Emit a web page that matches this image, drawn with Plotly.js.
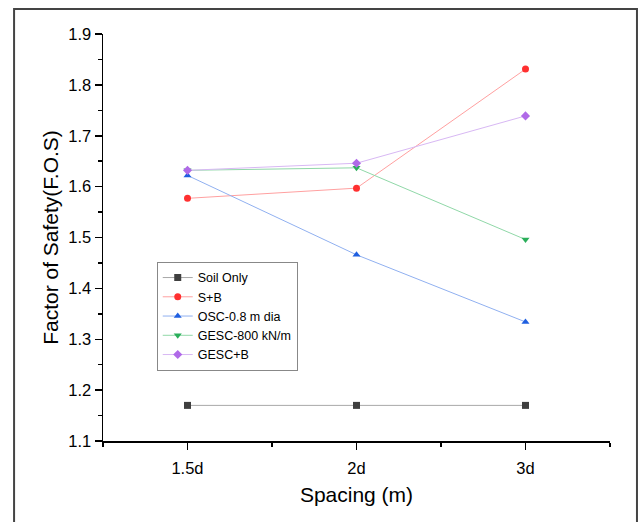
<!DOCTYPE html>
<html>
<head>
<meta charset="utf-8">
<script src="https://cdn.plot.ly/plotly-3.0.1.min.js"></script>
<style>html,body{margin:0;padding:0;background:#fff;}#chart{width:640px;height:522px;}</style>
</head>
<body>
<div id="chart"></div>
<script>
const categories = ["1.5d", "2d", "3d"];
const soilOnly = [1.170, 1.170, 1.170];
const sPlusB = [1.577, 1.597, 1.831];
const osc08 = [1.622, 1.466, 1.334];
const gesc800 = [1.632, 1.637, 1.496];
const gescPlusB = [1.632, 1.646, 1.739];
const seriesNames = ["Soil Only", "S+B", "OSC-0.8 m dia", "GESC-800 kN/m", "GESC+B"];

const xIdx = categories.map((_, i) => i);
const styles = [
  {sym: "square", mc: "#3f3f3f", lc: "#a8a8a8"},
  {sym: "circle", mc: "#ff3030", lc: "#ffa0a0"},
  {sym: "triangle-up", mc: "#1f5fe0", lc: "#90b0f0"},
  {sym: "triangle-down", mc: "#2aae5a", lc: "#90d8a8"},
  {sym: "diamond", mc: "#b06ae8", lc: "#d8b8f4"}
];
const allData = [soilOnly, sPlusB, osc08, gesc800, gescPlusB];
const traces = allData.map((ys, k) => ({
  x: xIdx, y: ys, name: seriesNames[k], type: "scatter", mode: "lines+markers",
  line: {color: styles[k].lc, width: 1},
  marker: {symbol: styles[k].sym, color: styles[k].mc, size: 7}
}));

const layout = {
  width: 640, height: 522,
  margin: {l: 103, r: 29.5, t: 34, b: 80.5},
  paper_bgcolor: "#fff", plot_bgcolor: "#fff",
  font: {family: "Liberation Sans, Arial, sans-serif", color: "#000"},
  showlegend: true,
  legend: {x: 0.106, y: 0.44, xanchor: "left", yanchor: "top",
    bordercolor: "#888", borderwidth: 1, bgcolor: "#fff",
    font: {size: 12.5, color: "#000"}, tracegroupgap: 0},
  xaxis: {
    range: [-0.5, 2.5], tickvals: xIdx, ticktext: categories,
    showgrid: false, zeroline: false, showline: true, linecolor: "#000", linewidth: 1.5,
    ticks: "outside", ticklen: 7, tickwidth: 1.5, tickcolor: "#000",
    tickfont: {size: 16.5}, ticklabelstandoff: 5,
    minor: {tickvals: [-0.5, 0.5, 1.5, 2.5], ticks: "outside", ticklen: 4, tickwidth: 1.5, tickcolor: "#000", showgrid: false},
    title: {text: "Spacing (m)", font: {size: 21}, standoff: 11}
  },
  yaxis: {
    range: [1.1, 1.9], dtick: 0.1, tick0: 1.1,
    showgrid: false, zeroline: false, showline: true, linecolor: "#000", linewidth: 1.5,
    ticks: "outside", ticklen: 7, tickwidth: 1.5, tickcolor: "#000",
    tickfont: {size: 16.5}, tickformat: ".1f",
    minor: {dtick: 0.05, ticks: "outside", ticklen: 4, tickwidth: 1.5, tickcolor: "#000", showgrid: false},
    title: {text: "Factor of Safety(F.O.S)", font: {size: 21}, standoff: 4}
  },
  shapes: [{type: "rect", xref: "paper", yref: "paper",
    x0: -0.1754, x1: 1.0532, y0: -0.3, y1: 1.0613,
    line: {color: "#444", width: 2}, fillcolor: "rgba(0,0,0,0)", layer: "below"}]
};

Plotly.newPlot("chart", traces, layout, {displayModeBar: false, staticPlot: true});
</script>
</body>
</html>
